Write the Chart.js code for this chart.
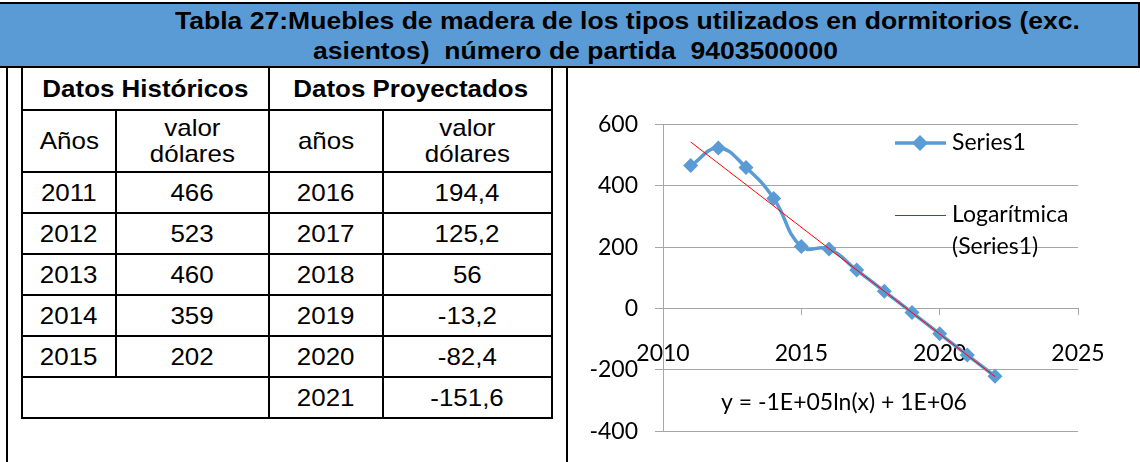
<!DOCTYPE html>
<html>
<head>
<meta charset="utf-8">
<script src="https://cdn.jsdelivr.net/npm/chart.js@4.4.1/dist/chart.umd.min.js"></script>
<style>
  html, body { margin: 0; padding: 0; background: #fff; width: 1140px; height: 462px; overflow: hidden; }
  #title { position: absolute; left: 0; top: 2px; width: 1138px; height: 62px; background: #5B9BD5;
           border-top: 2px solid #000; border-bottom: 2px solid #000; border-right: 2px solid #000; }
  .tl { position: absolute; white-space: pre; font-family: "Liberation Sans", Arial, sans-serif; font-weight: bold;
        font-size: 24px; color: #000; line-height: 1; transform-origin: 0 0; }
  #vleft { position: absolute; left: 6px; top: 66px; width: 2px; height: 396px; background: #000; }
  #vmid { position: absolute; left: 566px; top: 66px; width: 2px; height: 396px; background: #000; }
  table { position: absolute; left: 21px; top: 66px; border-collapse: collapse; table-layout: fixed;
          font-family: "Liberation Sans", Arial, sans-serif; font-size: 24px; color: #000; }
  td { border: 2px solid #000; text-align: center; vertical-align: middle; padding: 0; line-height: 26px; }
  td span { display: inline-block; transform: scaleX(1.08); }
  td.hd { font-weight: bold; }
  #chartbox { position: absolute; left: 570px; top: 67px; width: 570px; height: 395px; }
</style>
</head>
<body>
<div id="title"></div>
<div class="tl" id="t1" style="left:175px; top:9px;"></div>
<div class="tl" id="t2" style="left:313px; top:39px;"></div>
<div id="vleft"></div>
<div id="vmid"></div>
<table id="tbl"></table>
<div id="chartbox"><canvas id="c" width="570" height="395"></canvas></div>
<script>
// ---- data ----
const histYears = [2011, 2012, 2013, 2014, 2015];
const histValues = [466, 523, 460, 359, 202];
const projYears = [2016, 2017, 2018, 2019, 2020, 2021];
const projValues = [194.4, 125.2, 56, -13.2, -82.4, -151.6];
const extraYears = [2022];
const extraValues = [-220.8];
const trendYears = [2011, 2022];
const trendValues = [543, -222];
const yTicks = [-400, -200, 0, 200, 400, 600];
const xTicks = [2010, 2015, 2020, 2025];
const titleLines = ["Tabla 27:Muebles de madera de los tipos utilizados en dormitorios (exc.", "asientos)  número de partida  9403500000"];
const seriesLabel = "Series1";
const trendLabel = "Logarítmica (Series1)";
const equationText = "y = -1E+05ln(x) + 1E+06";

// ---- title (fit each line to its measured width in the reference) ----
const titleWidths = [905, 525];
['t1', 't2'].forEach((id, i) => {
  const el = document.getElementById(id);
  el.textContent = titleLines[i];
  const w = el.getBoundingClientRect().width;
  el.style.transform = 'scaleX(' + (titleWidths[i] / w) + ')';
});

// ---- table ----
const fmt = v => String(v).replace('.', ',');
const sp = t => '<span>' + t + '</span>';
const colW = [94, 153, 114, 169];
const tbl = document.getElementById('tbl');
let html = '<colgroup>' + colW.map(w => '<col style="width:' + w + 'px">').join('') + '</colgroup>';
html += '<tr style="height:43px"><td class="hd" colspan="2">' + sp('Datos Históricos') + '</td><td class="hd" colspan="2">' + sp('Datos Proyectados') + '</td></tr>';
html += '<tr style="height:62px"><td>' + sp('Años') + '</td><td>' + sp('valor<br>dólares') + '</td><td>' + sp('años') + '</td><td>' + sp('valor<br>dólares') + '</td></tr>';
for (let i = 0; i < projYears.length; i++) {
  html += '<tr style="height:41px">';
  if (i < histYears.length) html += '<td>' + sp(histYears[i]) + '</td><td>' + sp(fmt(histValues[i])) + '</td>';
  else html += '<td colspan="2"></td>';
  html += '<td>' + sp(projYears[i]) + '</td><td>' + sp(fmt(projValues[i])) + '</td></tr>';
}
tbl.innerHTML = html;

// ---- chart ----
const allYears = histYears.concat(projYears, extraYears);
const allValues = histValues.concat(projValues, extraValues);
const seriesPts = allYears.map((x, i) => ({x: x, y: allValues[i]}));
const trendPts = trendYears.map((x, i) => ({x: x, y: trendValues[i]}));
const FONT = 'Lato, "Open Sans", sans-serif';
const GRID = '#A6A6A6';
const BLUE = '#5B9BD5';

const overlay = {
  id: 'overlay',
  afterDraw(chart) {
    const ctx = chart.ctx;
    ctx.save();
    ctx.font = '23px ' + FONT;
    ctx.fillStyle = '#000';
    ctx.textBaseline = 'middle';
    ctx.textAlign = 'left';
    // legend: series
    ctx.strokeStyle = BLUE; ctx.lineWidth = 3.5;
    ctx.beginPath(); ctx.moveTo(325, 76); ctx.lineTo(376, 76); ctx.stroke();
    ctx.fillStyle = BLUE;
    ctx.beginPath(); ctx.moveTo(350, 68); ctx.lineTo(358, 76); ctx.lineTo(350, 84); ctx.lineTo(342, 76); ctx.closePath(); ctx.fill();
    ctx.fillStyle = '#000';
    ctx.fillText(chart.data.datasets[0].label, 382, 76);
    // legend: trend
    ctx.strokeStyle = '#FF0000'; ctx.lineWidth = 1;
    ctx.beginPath(); ctx.moveTo(325, 148.5); ctx.lineTo(376, 148.5); ctx.stroke();
    const parts = chart.data.datasets[1].label.split(' ');
    ctx.fillText(parts[0], 382, 148);
    ctx.fillText(parts[1], 382, 180);
    // equation
    ctx.fillText(equationText, 151, 336);
    ctx.restore();
  }
};

new Chart(document.getElementById('c'), {
  type: 'scatter',
  data: {
    datasets: [
      { label: seriesLabel, data: seriesPts, showLine: true, tension: 0.45,
        borderColor: BLUE, backgroundColor: BLUE, borderWidth: 3.5,
        pointStyle: 'rectRot', pointRadius: 7.5, pointBorderWidth: 0, order: 2 },
      { label: trendLabel, data: trendPts, showLine: true, tension: 0,
        borderColor: '#FF0000', borderWidth: 1, pointRadius: 0, order: 1 }
    ]
  },
  options: {
    responsive: false, animation: false, devicePixelRatio: 1,
    layout: { padding: { left: 0, top: 57.5, right: 62, bottom: 15 } },
    plugins: { legend: { display: false }, tooltip: { enabled: false } },
    scales: {
      x: {
        type: 'linear', min: 2010, max: 2025, position: { y: 0 },
        afterBuildTicks: s => { s.ticks = xTicks.map(v => ({value: v})); },
        ticks: { font: { family: FONT, size: 23 }, color: '#000', padding: 25, maxRotation: 0,
                 callback: v => String(v) },
        grid: { display: true, drawOnChartArea: false, tickLength: 6, color: GRID },
        border: { display: true, color: GRID, width: 1 }
      },
      y: {
        type: 'linear', min: -400, max: 600,
        afterBuildTicks: s => { s.ticks = yTicks.map(v => ({value: v})); },
        afterFit: s => { s.width = 93; },
        ticks: { font: { family: FONT, size: 23 }, color: '#000', padding: 17,
                 callback: v => String(v) },
        grid: { color: GRID, tickLength: 8, lineWidth: 1 },
        border: { display: true, color: GRID, width: 1 }
      }
    }
  },
  plugins: [overlay]
});
</script>
</body>
</html>
